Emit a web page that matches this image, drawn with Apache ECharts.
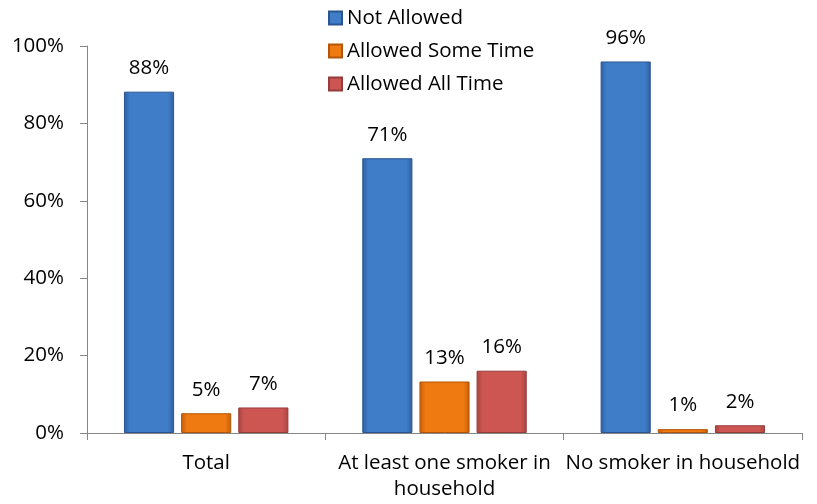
<!DOCTYPE html>
<html>
<head>
<meta charset="utf-8">
<script src="https://cdn.jsdelivr.net/npm/echarts@6/dist/echarts.min.js"></script>
<style>
html,body{margin:0;padding:0;background:#fff;}
#chart{width:817px;height:504px;}
</style>
</head>
<body>
<div id="chart"></div>
<script>
const categories = ['Total', 'At least one smoker in\nhousehold', 'No smoker in household'];
const seriesNames = ['Not Allowed', 'Allowed Some Time', 'Allowed All Time'];
const notAllowed = [88.2, 71.0, 96.0];
const allowedSome = [5.1, 13.3, 1.0];
const allowedAll = [6.6, 16.1, 2.0];
const yTicks = [0, 20, 40, 60, 80, 100];

const FONT = 'Open Sans';
const FS = 20.5;
function grad(edge, mid) {
  return new echarts.graphic.LinearGradient(0, 0, 1, 0, [
    {offset: 0, color: edge},
    {offset: 0.12, color: mid},
    {offset: 0.88, color: mid},
    {offset: 1, color: edge}
  ]);
}
const styles = [
  {fill: grad('#2f5f9e', '#3f7dc8'), border: '#2a5590', legend: '#3a74bd'},
  {fill: grad('#c55d07', '#f07a12'), border: '#b35506', legend: '#e8710e'},
  {fill: grad('#a84340', '#cd5653'), border: '#963c3a', legend: '#c8504d'}
];
const data = [notAllowed, allowedSome, allowedAll];

const chart = echarts.init(document.getElementById('chart'), null, {renderer: 'canvas'});
chart.setOption({
  animation: false,
  backgroundColor: '#ffffff',
  grid: {left: 87, right: 15, top: 46, bottom: 71},
  legend: {
    orient: 'vertical',
    left: 323,
    top: 2,
    itemWidth: 13,
    itemHeight: 13,
    itemGap: 11,
    icon: 'rect',
    textStyle: {fontFamily: FONT, fontSize: 20.5, color: '#000', lineHeight: 22},
    data: seriesNames
  },
  xAxis: {
    type: 'category',
    data: categories,
    axisLine: {lineStyle: {color: '#868686', width: 1}},
    axisTick: {show: true, length: 7, lineStyle: {color: '#868686'}},
    axisLabel: {fontFamily: FONT, fontSize: FS, color: '#000', margin: 17, lineHeight: 26, interval: 0}
  },
  yAxis: {
    type: 'value',
    min: 0, max: 100, interval: 20,
    axisLine: {show: true, lineStyle: {color: '#868686', width: 1}},
    axisTick: {show: true, length: 7, lineStyle: {color: '#868686'}},
    splitLine: {show: false},
    axisLabel: {fontFamily: FONT, fontSize: FS, color: '#000', margin: 23,
      formatter: v => yTicks.includes(v) ? v + '%' : ''}
  },
  series: seriesNames.map((name, i) => ({
    name: name,
    type: 'bar',
    data: data[i],
    barGap: '14%',
    barCategoryGap: '31%',
    itemStyle: {color: styles[i].fill, borderColor: styles[i].border, borderWidth: 1},
    label: {
      show: true, position: 'top', distance: 13,
      fontFamily: FONT, fontSize: FS, color: '#000',
      formatter: p => Math.round(p.value) + '%'
    }
  })),
  color: styles.map(s => s.legend)
});
</script>
</body>
</html>
